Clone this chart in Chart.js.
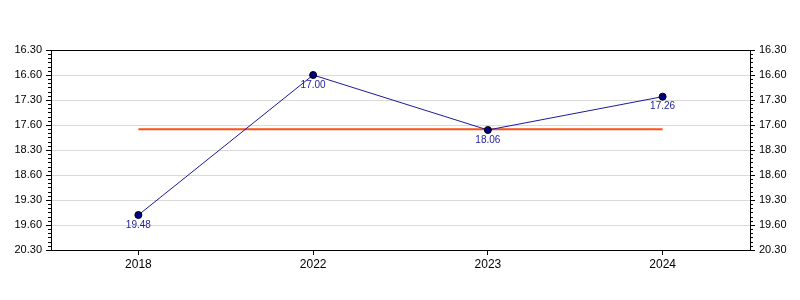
<!DOCTYPE html>
<html>
<head>
<meta charset="utf-8">
<script src="https://cdn.jsdelivr.net/npm/chart.js@4"></script>
<style>
  html, body { margin: 0; padding: 0; background: #fff; }
  #wrap { width: 800px; height: 300px; }
</style>
</head>
<body>
<div id="wrap"><canvas id="timeChart"></canvas></div>
<script>
// years on the x axis
const years = ['2018', '2022', '2023', '2024'];
// times as printed (min.sec) and the same times in decimal minutes
const timeLabels = ['19.48', '17.00', '18.06', '17.26'];
const timeValues = [19.8, 17.0, 18.1, 17.4333];
// average of the four times, decimal minutes
const averageValue = 18.0833;
// y axis: major tick values and their printed labels
const yTickValues = [16.5, 17.0, 17.5, 18.0, 18.5, 19.0, 19.5, 20.0, 20.5];
const yTickLabels = ['16.30', '16.60', '17.30', '17.60', '18.30', '18.60', '19.30', '19.60', '20.30'];
const minorStep = 0.5 / 6;

// point labels under each marker
const pointLabels = {
    id: 'pointLabels',
    afterDatasetsDraw(chart) {
        const meta = chart.getDatasetMeta(1);
        const ctx = chart.ctx;
        ctx.save();
        ctx.font = '10px "Liberation Sans", Arial, sans-serif';
        ctx.fillStyle = '#1c1c9c';
        ctx.textAlign = 'center';
        ctx.textBaseline = 'middle';
        meta.data.forEach(function(pt, i) {
            ctx.fillText(timeLabels[i], pt.x, pt.y + 10);
        });
        ctx.restore();
    }
};

// minor ticks on both y axes
const minorTicks = {
    id: 'minorTicks',
    afterDraw(chart) {
        const ctx = chart.ctx;
        ctx.save();
        ctx.strokeStyle = '#000';
        ctx.lineWidth = 1;
        ['y', 'y2'].forEach(function(id) {
            const scale = chart.scales[id];
            const left = scale.position === 'left';
            const edge = left ? scale.right : scale.left;
            const min = yTickValues[0];
            const max = yTickValues[yTickValues.length - 1];
            for (let v = min; v <= max + 1e-6; v += minorStep) {
                const y = Math.round(scale.getPixelForValue(v)) + 0.5;
                ctx.beginPath();
                ctx.moveTo(edge, y);
                ctx.lineTo(left ? edge - 3 : edge + 3, y);
                ctx.stroke();
            }
        });
        ctx.restore();
    }
};

function yAxis(position, width) {
    return {
        type: 'linear',
        position: position,
        reverse: true,
        min: yTickValues[0],
        max: yTickValues[yTickValues.length - 1],
        afterBuildTicks: function(scale) {
            scale.ticks = yTickValues.map(function(v) { return { value: v }; });
        },
        afterFit: function(scale) { scale.width = width; },
        ticks: {
            color: '#000',
            padding: 4,
            font: { size: 11, family: '"Liberation Sans", Arial, sans-serif' },
            callback: function(value, index) { return yTickLabels[index]; }
        },
        grid: {
            drawOnChartArea: position === 'left',
            color: function(c) {
                return (c.index === 0 || c.index === yTickValues.length - 1) ? '#000' : '#d9d9d9';
            },
            tickColor: '#000',
            tickLength: 5
        },
        border: { color: '#000', width: 1 }
    };
}

document.addEventListener('DOMContentLoaded', function() {
    const ctx = document.getElementById('timeChart');
    new Chart(ctx, {
        type: 'line',
        data: {
            labels: years,
            datasets: [{
                label: 'Average',
                data: years.map(function() { return averageValue; }),
                borderColor: '#ff4f14',
                borderWidth: 2,
                pointRadius: 0,
                fill: false,
                order: 2
            }, {
                label: 'Time',
                data: timeValues,
                borderColor: '#1a1a9c',
                borderWidth: 1,
                pointRadius: 3.5,
                pointBackgroundColor: '#000080',
                pointBorderColor: '#000',
                pointBorderWidth: 1,
                tension: 0,
                fill: false,
                order: 1
            }]
        },
        options: {
            responsive: true,
            maintainAspectRatio: false,
            animation: false,
            layout: { padding: { top: 50, left: 0, right: 0, bottom: 0 } },
            plugins: {
                legend: { display: false },
                tooltip: { enabled: false }
            },
            scales: {
                x: {
                    offset: true,
                    afterFit: function(scale) { scale.height = 50; },
                    ticks: {
                        color: '#000',
                        padding: 2,
                        font: { size: 12, family: '"Liberation Sans", Arial, sans-serif' }
                    },
                    grid: {
                        offset: false,
                        drawOnChartArea: false,
                        tickColor: '#000',
                        tickLength: 5
                    },
                    border: { color: '#000', width: 1 }
                },
                y: yAxis('left', 51),
                y2: yAxis('right', 50)
            }
        },
        plugins: [pointLabels, minorTicks]
    });
});
</script>
</body>
</html>
